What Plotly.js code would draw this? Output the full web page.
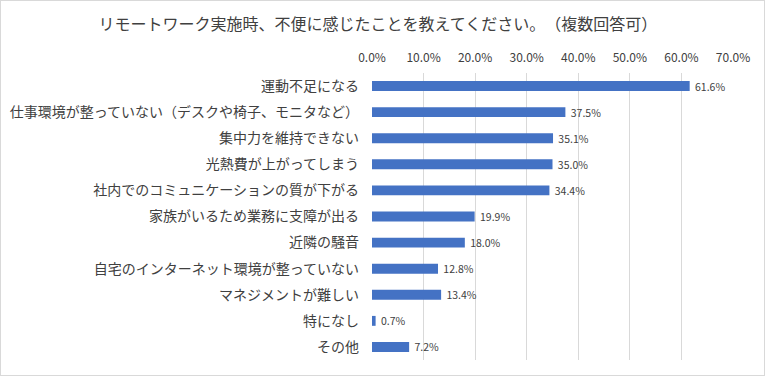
<!DOCTYPE html>
<html><head><meta charset="utf-8">
<script src="https://cdn.plot.ly/plotly-3.0.1.min.js"></script>
<style>
html,body{margin:0;padding:0;background:#fff;}
#wrap{width:765px;height:376px;box-sizing:border-box;border:1px solid #d9d9d9;position:relative;}
#chart{position:absolute;left:-1px;top:-1px;width:765px;height:376px;}
#chart text{text-spacing-trim: space-all;}
</style></head>
<body><div id="wrap"><div id="chart"></div></div>
<script>
const titleText = "リモートワーク実施時、不便に感じたことを教えてください。（複数回答可）";
const categories = [
  "運動不足になる",
  "仕事環境が整っていない（デスクや椅子、モニタなど）",
  "集中力を維持できない",
  "光熱費が上がってしまう",
  "社内でのコミュニケーションの質が下がる",
  "家族がいるため業務に支障が出る",
  "近隣の騒音",
  "自宅のインターネット環境が整っていない",
  "マネジメントが難しい",
  "特になし",
  "その他"
];
const values = [61.6, 37.5, 35.1, 35.0, 34.4, 19.9, 18.0, 12.8, 13.4, 0.7, 7.2];
const tickVals = [0, 10, 20, 30, 40, 50, 60, 70];

const font = '"Noto Sans CJK JP", "Noto Sans", sans-serif';
Plotly.newPlot('chart', [{
  type: 'bar',
  orientation: 'h',
  x: values,
  y: categories,
  marker: {color: '#4472c4'},
  width: 0.38,
  text: values.map(v => '\u00a0' + v.toFixed(1) + '%'),
  textposition: 'outside',
  constraintext: 'none',
  textfont: {family: font, size: 10.5, color: '#404040'},
  cliponaxis: false,
  hoverinfo: 'none'
}], {
  width: 765, height: 376,
  margin: {l: 372, r: 32, t: 73, b: 16, pad: 0},
  paper_bgcolor: 'rgba(0,0,0,0)',
  plot_bgcolor: '#fff',
  showlegend: false,
  title: {text: titleText, x: 0.494, xanchor: 'center', y: 0.935, yanchor: 'middle',
          font: {family: font, size: 16, color: '#404040'}},
  xaxis: {
    side: 'top', range: [0, 70], tickvals: tickVals,
    ticktext: tickVals.map(v => v.toFixed(1) + '%'),
    showgrid: true, gridcolor: '#d9d9d9', gridwidth: 1,
    zeroline: false, showline: false, ticks: '',
    tickfont: {family: font, size: 12, color: '#404040'},
    ticklabelstandoff: 8, fixedrange: true
  },
  yaxis: {
    autorange: 'reversed', showgrid: false, zeroline: false,
    showline: false, ticks: '',
    tickfont: {family: font, size: 14, color: '#404040'},
    ticklabelstandoff: 12, fixedrange: true
  },
  font: {family: font}
}, {staticPlot: true});
</script></body></html>
